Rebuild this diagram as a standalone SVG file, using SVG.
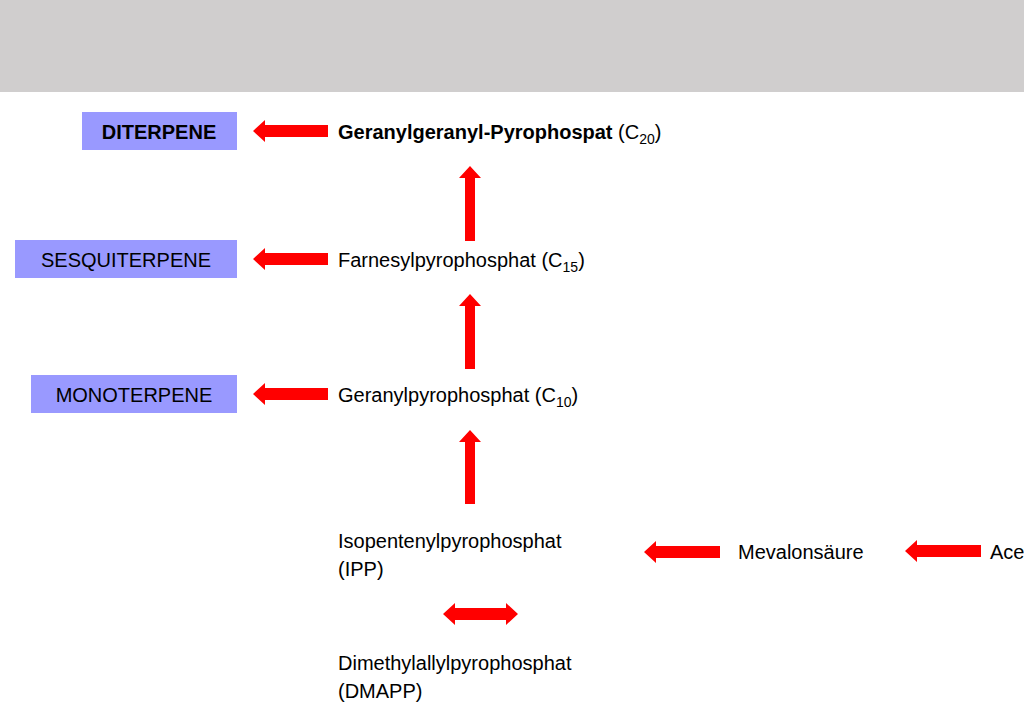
<svg xmlns="http://www.w3.org/2000/svg" width="1024" height="709" viewBox="0 0 1024 709">
<style>
text{font-family:"Liberation Sans",Arial,sans-serif;font-size:20px;fill:#000}
.b{font-weight:bold}
.box{fill:#9999ff}
.ar{fill:#ff0000}
</style>
<rect x="0" y="0" width="1024" height="92" fill="#d0cece"/>
<g id="diterpene"><rect class="box" x="82" y="112" width="155" height="38"/><text class="b" x="159" y="139" text-anchor="middle">DITERPENE</text></g>
<g id="sesquiterpene"><rect class="box" x="15" y="240" width="222" height="38"/><text x="126" y="267" text-anchor="middle">SESQUITERPENE</text></g>
<g id="monoterpene"><rect class="box" x="31" y="375" width="206" height="38"/><text x="134" y="402" text-anchor="middle">MONOTERPENE</text></g>
<g id="ggpp"><text x="338" y="139"><tspan class="b">Geranylgeranyl-Pyrophospat</tspan> (C<tspan font-size="14" dy="5">20</tspan><tspan dy="-5">)</tspan></text></g>
<g id="fpp"><text x="338" y="267">Farnesylpyrophosphat (C<tspan font-size="14" dy="5">15</tspan><tspan dy="-5">)</tspan></text></g>
<g id="gpp"><text x="338" y="402">Geranylpyrophosphat (C<tspan font-size="14" dy="5">10</tspan><tspan dy="-5">)</tspan></text></g>
<g id="ipp"><text x="338" y="548">Isopentenylpyrophosphat</text><text x="338" y="576">(IPP)</text></g>
<g id="dmapp"><text x="338" y="670">Dimethylallylpyrophosphat</text><text x="338" y="698">(DMAPP)</text></g>
<g id="mevalon"><text x="738" y="559">Mevalonsäure</text></g>
<g id="acetyl"><text x="990" y="559">Ace</text></g>
<g id="connectors" class="ar">
<polygon class="ar" points="253,131 265,120 265,125 328,125 328,137 265,137 265,142"/>
<polygon class="ar" points="253,259 265,248 265,253 328,253 328,265 265,265 265,270"/>
<polygon class="ar" points="253,394 265,383 265,388 328,388 328,400 265,400 265,405"/>
<polygon class="ar" points="470,166 481,178 475,178 475,241 465,241 465,178 459,178"/>
<polygon class="ar" points="470,294 481,306 475,306 475,369 465,369 465,306 459,306"/>
<polygon class="ar" points="470,430 481,442 475,442 475,504 465,504 465,442 459,442"/>
<polygon class="ar" points="644,552 656,541 656,546 720,546 720,558 656,558 656,563"/>
<polygon class="ar" points="905,551 917,540 917,545 981,545 981,557 917,557 917,562"/>
<polygon class="ar" points="443,614 455,603 455,608 506,608 506,603 518,614 506,625 506,620 455,620 455,625"/>
</g>
</svg>
